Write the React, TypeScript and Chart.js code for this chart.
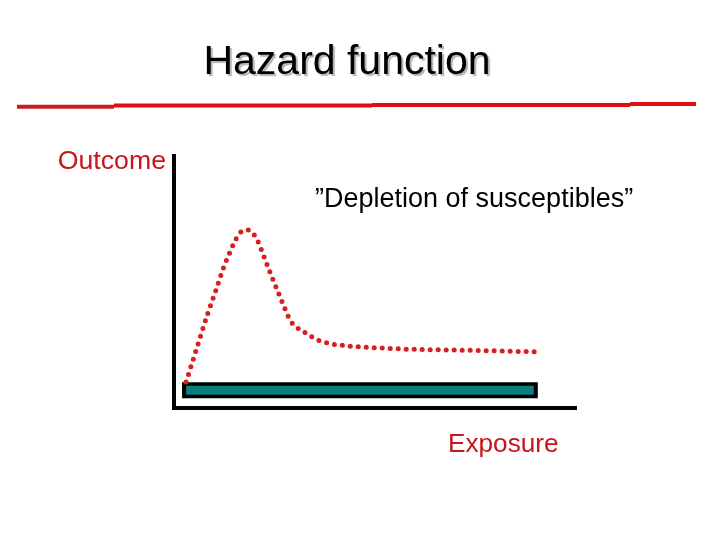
import { useEffect, useRef } from "react";
import { Chart, registerables } from "chart.js";

Chart.register(...registerables);

// hazard curve (exposure -> outcome, 0..100 on both axes)
const exposure = [3.0, 4.8, 6.6, 8.4, 10.4, 12.3, 13.8, 15.5, 16.7, 18.5, 20.0, 21.0, 22.5, 23.9, 25.4, 26.9, 28.4, 29.3, 30.8, 32.6, 34.3, 36.1, 38.0, 39.9, 41.9, 43.8, 45.8, 57.0, 73.6, 89.8];
const hazard = [10.3, 19.4, 28.5, 37.5, 46.6, 55.6, 61.4, 67.3, 69.9, 70.6, 68.6, 65.7, 59.6, 53.8, 47.9, 42.1, 36.4, 33.9, 31.7, 29.9, 28.2, 26.8, 25.9, 25.2, 24.9, 24.5, 24.3, 23.4, 22.9, 22.3];

// exposure range bar along the bottom (outline, then fill)
const barStart = [2.0, 3.0];
const barEnd = [90.5, 89.5];
const barLevel = 7.0;

const titleText = "Hazard function";
const yLabel = "Outcome";
const xLabel = "Exposure";
const note = "\u201dDepletion of susceptibles\u201d";

const decorations = {
  id: "decorations",
  afterDraw(chart: Chart) {
    const { ctx, chartArea } = chart;
    ctx.save();

    // title with its light shadow
    ctx.font = "41px 'Liberation Sans', Arial, sans-serif";
    ctx.textAlign = "center";
    ctx.textBaseline = "alphabetic";
    ctx.shadowColor = "rgba(0,0,0,0.3)";
    ctx.shadowOffsetX = 2;
    ctx.shadowOffsetY = 2;
    ctx.shadowBlur = 1;
    ctx.fillStyle = "#000";
    ctx.fillText(titleText, 347, 74);
    ctx.shadowColor = "transparent";

    // red rule under the title
    const rule = [
      [17, 114, 106.8, "#c81e1e"],
      [114, 372, 105.6, "#e00d0d"],
      [372, 630, 104.9, "#e00d0d"],
      [630, 696, 103.9, "#e00d0d"],
    ] as const;
    ctx.lineWidth = 4;
    rule.forEach(([x0, x1, y, c]) => {
      ctx.strokeStyle = c;
      ctx.beginPath();
      ctx.moveTo(x0, y);
      ctx.lineTo(x1, y);
      ctx.stroke();
    });

    ctx.font = "26.7px 'Liberation Sans', Arial, sans-serif";
    ctx.fillStyle = "#c8141c";
    ctx.textAlign = "right";
    ctx.fillText(yLabel, chartArea.left - 8, chartArea.top + 13);

    ctx.font = "26.2px 'Liberation Sans', Arial, sans-serif";
    ctx.textAlign = "left";
    ctx.fillText(xLabel, 448, chartArea.bottom + 44);

    ctx.font = "27px 'Liberation Sans', Arial, sans-serif";
    ctx.fillStyle = "#000";
    ctx.fillText(note, 315, chartArea.top + 51);

    ctx.restore();
  },
};

const App = () => {
  const chartRef = useRef<HTMLCanvasElement>(null);

  useEffect(() => {
    if (!chartRef.current) return;

    const curve = exposure.map((x, i) => ({ x, y: hazard[i] }));

    const myChart = new Chart(chartRef.current, {
      type: "line",
      data: {
        datasets: [
          {
            data: [
              { x: barStart[0], y: barLevel },
              { x: barEnd[0], y: barLevel },
            ],
            borderColor: "#000",
            borderWidth: 16,
            borderCapStyle: "butt",
            pointRadius: 0,
            order: 3,
          },
          {
            data: [
              { x: barStart[1], y: barLevel },
              { x: barEnd[1], y: barLevel },
            ],
            borderColor: "#0b7f7c",
            borderWidth: 9,
            borderCapStyle: "butt",
            pointRadius: 0,
            order: 2,
          },
          {
            data: curve,
            borderColor: "#d71f1f",
            borderWidth: 5,
            borderDash: [0, 8],
            borderCapStyle: "round",
            cubicInterpolationMode: "monotone",
            pointRadius: 0,
            order: 1,
          },
        ],
      },
      options: {
        responsive: false,
        animation: false,
        devicePixelRatio: 1,
        layout: {
          padding: { left: 174, right: 144, top: 156, bottom: 132 },
        },
        plugins: {
          legend: { display: false },
          tooltip: { enabled: false },
        },
        scales: {
          x: {
            type: "linear",
            min: 0,
            max: 100,
            ticks: { display: false },
            grid: { display: false, drawTicks: false },
            border: { display: true, width: 4, color: "#000" },
          },
          y: {
            type: "linear",
            min: 0,
            max: 100,
            ticks: { display: false },
            grid: { display: false, drawTicks: false },
            border: { display: true, width: 4, color: "#000" },
          },
        },
      },
      plugins: [decorations],
    });

    return () => {
      myChart.destroy();
    };
  }, []);

  return (
    <div style={{ position: "fixed", left: 0, top: 0, width: 720, height: 540, background: "#fff" }}>
      <canvas ref={chartRef} width={720} height={540} />
    </div>
  );
};

export default App;
